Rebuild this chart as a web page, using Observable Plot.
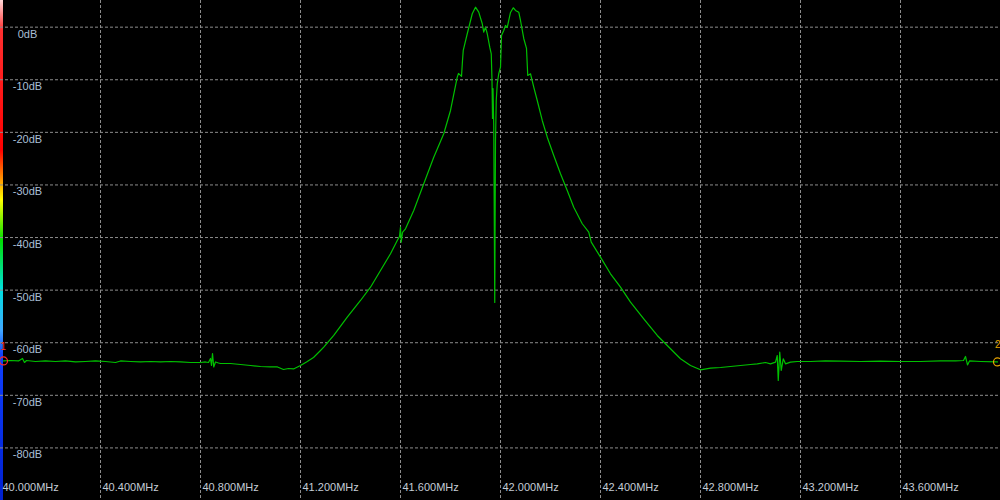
<!DOCTYPE html>
<html><head><meta charset="utf-8">
<script src="https://cdn.jsdelivr.net/npm/d3@7"></script>
<script src="https://cdn.jsdelivr.net/npm/@observablehq/plot@0.6"></script>
<style>html,body{margin:0;padding:0;background:#000;overflow:hidden}</style>
</head><body><div id="chart"></div>
<script>
// Spectrum trace: frequency (MHz) and level (dB)
const freqMHz = [
  40.012,40.040,40.072,40.088,40.096,40.104,40.140,40.180,40.220,40.260,40.300,40.340,40.380,40.420,40.460,40.480,
  40.520,40.560,40.600,40.640,40.680,40.720,40.760,40.800,40.820,40.832,40.840,40.844,40.848,40.853,40.860,40.872,
  40.880,40.920,40.960,41.000,41.040,41.080,41.108,41.132,41.152,41.172,41.200,41.224,41.252,41.280,
  41.293,41.333,41.387,41.440,41.480,41.520,41.560,41.587,41.596,41.600,41.603,41.608,41.620,41.653,41.693,41.733,
  41.773,41.800,41.827,41.832,41.844,41.848,41.851,41.867,41.887,41.900,41.913,41.927,41.933,41.940,41.947,41.957,
  41.963,41.966,41.968,41.970,41.973,41.977,41.980,41.983,41.987,41.993,42.000,42.004,42.013,42.020,42.027,42.033,
  42.040,42.051,42.060,42.073,42.080,42.093,42.104,42.109,42.120,42.133,42.147,42.167,42.187,42.213,42.240,42.267,
  42.293,42.327,42.353,42.363,42.400,42.440,42.480,42.520,42.573,42.627,42.680,42.720,42.760,42.800,42.840,42.880,
  42.920,42.960,43.000,43.027,43.060,43.080,43.100,43.107,43.111,43.117,43.123,43.131,43.140,43.160,43.187,43.240,
  43.300,43.360,43.440,43.520,43.600,43.680,43.760,43.820,43.852,43.860,43.868,43.876,43.920,43.988
];
const levelDb = [
  -63.47,-63.38,-63.47,-63.00,-63.76,-63.38,-63.57,-63.47,-63.57,-63.47,-63.66,-63.57,-63.47,-63.57,-63.76,-63.47,
  -63.57,-63.66,-63.57,-63.66,-63.57,-63.66,-63.76,-63.76,-63.66,-63.76,-63.00,-64.33,-62.05,-64.61,-63.66,-63.85,
  -63.95,-63.95,-64.14,-64.33,-64.52,-64.61,-64.61,-65.09,-64.90,-64.99,-64.33,-63.66,-62.81,-61.48,
  -60.85,-58.62,-55.14,-51.97,-49.44,-46.26,-43.09,-40.56,-39.80,-38.03,-40.88,-39.04,-38.33,-34.85,-29.78,-24.72,
  -20.27,-15.84,-9.51,-8.80,-9.37,-6.33,-4.43,-1.25,2.55,3.80,2.85,0.65,-0.95,0.00,-1.25,-3.80,
  -5.06,-10.13,-17.36,-11.66,-18.69,-52.35,-21.55,-13.94,-10.76,-8.86,-7.61,-1.58,-0.63,0.32,-0.06,1.27,
  2.80,3.69,3.18,2.85,1.27,-2.15,-4.05,-9.18,-8.86,-11.41,-13.94,-17.74,-20.92,-24.40,-27.88,-31.05,
  -34.23,-37.38,-38.98,-40.88,-43.73,-46.89,-49.44,-52.29,-55.45,-58.62,-61.15,-63.05,-64.33,-65.15,-64.84,-64.71,
  -64.52,-64.33,-64.14,-64.01,-63.76,-64.01,-63.70,-62.43,-67.18,-61.80,-65.28,-63.05,-64.01,-63.70,-63.57,-63.57,
  -63.47,-63.51,-63.57,-63.51,-63.57,-63.57,-63.47,-63.47,-63.38,-62.62,-64.23,-63.47,-63.57,-63.66
];
const xTicks = [40.0, 40.4, 40.8, 41.2, 41.6, 42.0, 42.4, 42.8, 43.2, 43.6];
const yTicks = [0, -10, -20, -30, -40, -50, -60, -70, -80];
const markerLabels = ["1", "2"];
const markerColors = ["#ff2a2a", "#e8a400"];
const colorbarStops = [
  [0.00, "#ffd8d8"], [0.06, "#ff3030"], [0.30, "#ff0000"], [0.35, "#ff8000"], [0.40, "#ffff00"],
  [0.48, "#00e000"], [0.58, "#00e0e0"], [0.66, "#40a8ff"], [0.71, "#1040ff"], [1.00, "#0020d0"]
];

const trace = freqMHz.map((f, i) => ({f, db: levelDb[i]}));
const ends = [trace[0], trace[trace.length - 1]];
const markers = ends.map((d, i) => ({...d, label: markerLabels[i], color: markerColors[i]}));

const plot = Plot.plot({
  width: 1000, height: 500, margin: 0,
  style: {background: "#000", fontFamily: "'Liberation Sans', Arial, sans-serif", fontSize: "11px"},
  x: {domain: [40, 44], axis: null},
  y: {domain: [-90, 5.07], axis: null},
  color: {type: "identity"},
  marks: [
    Plot.ruleY(yTicks, {stroke: "#8c8c8c", strokeDasharray: "3,2", strokeWidth: 1}),
    Plot.ruleX(xTicks.slice(1), {stroke: "#8c8c8c", strokeDasharray: "3,2", strokeWidth: 1}),
    Plot.text(yTicks, {y: d => d, frameAnchor: "left", dx: 27, dy: 7, text: d => `${d}dB`,
      textAnchor: "middle", fill: "#a9bfd6"}),
    Plot.text(xTicks, {x: d => d, frameAnchor: "bottom", dx: 2, dy: -13, lineAnchor: "middle",
      textAnchor: "start", text: d => d.toFixed(3) + "MHz", fill: "#c4ccd6"}),
    Plot.line(trace, {x: "f", y: "db", stroke: "#00c000", strokeWidth: 1.2}),
    Plot.dot(markers, {x: "f", y: "db", r: 4, stroke: "color", strokeWidth: 1.2, fill: "none"}),
    Plot.text([markers[0]], {x: "f", y: "db", text: "label", fill: "color", dy: -14, dx: -3, textAnchor: "start", fontSize: 10}),
    Plot.text([markers[1]], {x: "f", y: "db", text: "label", fill: "color", dy: -17, dx: 3, textAnchor: "end", fontSize: 10})
  ]
});

const svg = d3.select(plot);
const defs = svg.insert("defs", ":first-child");
const grad = defs.append("linearGradient").attr("id", "cbar").attr("x1", 0).attr("x2", 0).attr("y1", 0).attr("y2", 1);
colorbarStops.forEach(([o, c]) => grad.append("stop").attr("offset", o).attr("stop-color", c));
svg.insert("rect", "defs + *").attr("x", 0).attr("y", 0).attr("width", 3).attr("height", 500).attr("fill", "url(#cbar)");
svg.insert("rect", "defs + *").attr("x", 0).attr("y", 0).attr("width", 1).attr("height", 500).attr("fill", "#ffffff").attr("opacity", 0.35);

document.getElementById("chart").appendChild(plot);
</script>
</body></html>
